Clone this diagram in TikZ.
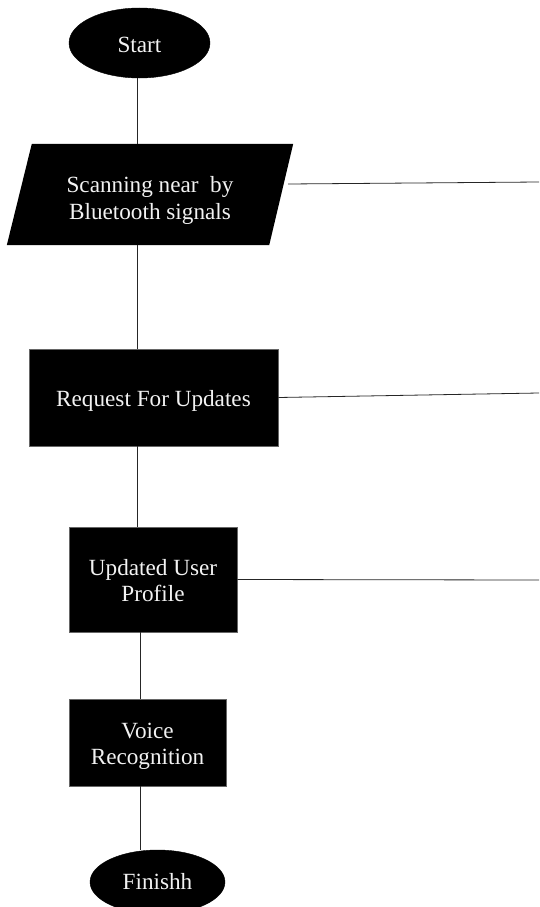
\documentclass[tikz,border=0pt]{standalone}
\usepackage{fontspec}
\setmainfont{Liberation Serif}
\usetikzlibrary{shapes.geometric}
\begin{document}
\begin{tikzpicture}[x=1pt,y=-1pt,
  every node/.style={inner sep=0pt},
  caption/.style={font=\fontsize{23.2}{26.5}\selectfont, text=white!95!black, align=center},
  term/.style={ellipse, fill=black, draw=black},
  procbox/.style={rectangle, fill=black, draw=black!60, line width=0.6pt},
  iobox/.style={rectangle},
  link/.style={draw=black!85, line width=0.8pt}]
\useasboundingbox (0,0) rectangle (539,907);

% flow step shapes
\node[term, minimum width=141pt, minimum height=70pt] (start) at (139.5,43) {};
\node[iobox, minimum width=286pt, minimum height=101pt] (scan) at (150,194.5) {};
\fill[black] ([xshift=25pt]scan.north west) -- (scan.north east)
  -- ([xshift=-24pt]scan.south east) -- (scan.south west) -- cycle;
\node[procbox, minimum width=249pt, minimum height=97pt] (req) at (153.5,397.5) {};
\node[procbox, minimum width=168pt, minimum height=105pt] (upd) at (153,579.5) {};
\node[procbox, minimum width=157pt, minimum height=87pt] (voice) at (147.5,742.5) {};
\node[term, minimum width=135pt, minimum height=64pt] (finish) at (157.5,882) {};

% step captions
\node[caption] (startT) at ([yshift=-2pt]start.center) {Start};
\node[caption] (scanT) at ([yshift=-6pt]scan.center) {Scanning near\ \ by\\Bluetooth signals};
\node[caption] (reqT) at ([yshift=-3.5pt]req.center) {Request For Updates};
\node[caption] (updT) at ([yshift=-1pt]upd.center) {Updated User\\Profile};
\node[caption] (voiceT) at ([yshift=-4pt]voice.center) {Voice\\Recognition};
\node[caption] (finishT) at (finish.center) {Finishh};

% main spine
\coordinate (spineA) at (137,0);
\coordinate (spineB) at (140,0);
\draw[link] (spineA |- start.south) -- (spineA |- scan.north);
\draw[link] (spineA |- scan.south) -- (spineA |- req.north);
\draw[link] (spineA |- req.south) -- (spineA |- upd.north);
\draw[link] (spineB |- upd.south) -- (spineB |- voice.north);
\draw[link] (spineB |- voice.south) -- (spineB |- finish.north);

% branches leaving to the right
\coordinate (out1) at (539,182);
\coordinate (out2) at (539,393);
\coordinate (out3) at (539,580);
\draw[link] ([shift={(-5,-10.5)}]scan.east) -- (out1);
\draw[link] (req.east) -- (out2);
\draw[link] (upd.east) -- (out3);
\end{tikzpicture}
\end{document}
